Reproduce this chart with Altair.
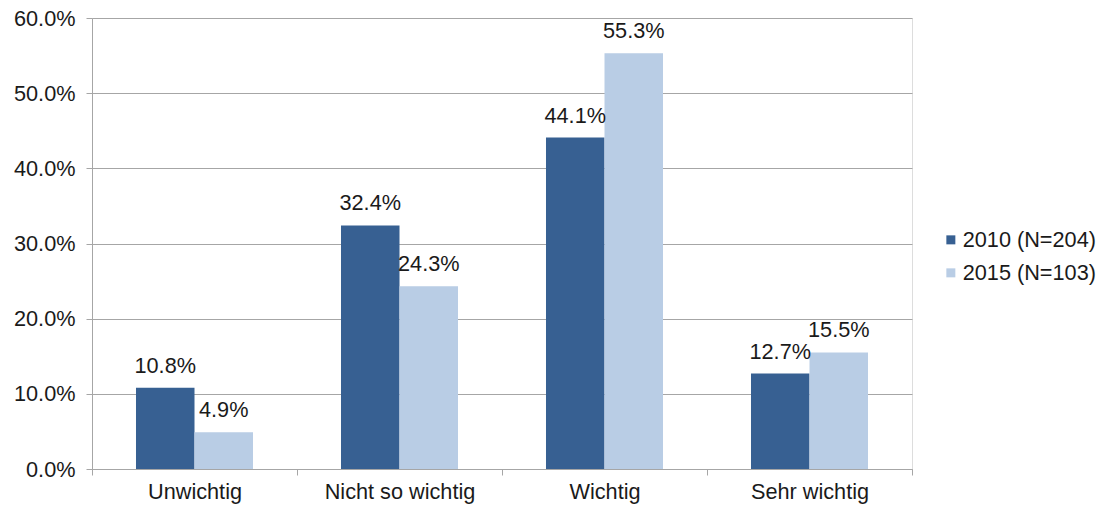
import altair as alt
import pandas as pd

categories = ["Unwichtig", "Nicht so wichtig", "Wichtig", "Sehr wichtig"]
series = ["2010 (N=204)", "2015 (N=103)"]
values_2010 = [0.108, 0.324, 0.441, 0.127]
values_2015 = [0.049, 0.243, 0.553, 0.155]
colors = ["#376092", "#B9CDE5"]

rows = []
for c, v in zip(categories, values_2010):
    rows.append({"Kategorie": c, "Serie": series[0], "Wert": v})
for c, v in zip(categories, values_2015):
    rows.append({"Kategorie": c, "Serie": series[1], "Wert": v})
df = pd.DataFrame(rows)

FONT = "Liberation Sans"
FS = 21.7

x_enc = alt.X("Kategorie:N", sort=categories, title=None,
              scale=alt.Scale(paddingInner=0, paddingOuter=0),
              axis=alt.Axis(labelAngle=0, tickBand="extent", domainColor="#A6A6A6",
                            tickColor="#A6A6A6", tickSize=6, labelFontSize=FS,
                            labelColor="#1a1a1a", labelFont=FONT, labelPadding=6,
                            grid=False))
xo_enc = alt.XOffset("Serie:N", sort=series,
                     scale=alt.Scale(paddingInner=0, paddingOuter=0.752))
y_enc = alt.Y("Wert:Q", title=None,
              scale=alt.Scale(domain=[0, 0.6], nice=False),
              axis=alt.Axis(format=".1%", values=[0, 0.1, 0.2, 0.3, 0.4, 0.5, 0.6],
                            grid=True, gridColor="#A6A6A6", domainColor="#A6A6A6",
                            tickColor="#A6A6A6", tickSize=6, labelFontSize=FS,
                            labelColor="#1a1a1a", labelFont=FONT, labelPadding=11))

bars = alt.Chart(df).mark_bar().encode(
    x=x_enc, xOffset=xo_enc, y=y_enc,
    color=alt.Color("Serie:N", sort=series, title=None,
                    scale=alt.Scale(domain=series, range=colors),
                    legend=alt.Legend(orient="none", legendX=848, legendY=211,
                                      padding=0, offset=0,
                                      symbolType="square", symbolSize=81,
                                      symbolStrokeWidth=0, labelFontSize=FS,
                                      labelFont=FONT, labelColor="#1a1a1a",
                                      rowPadding=10, symbolOffset=0, labelOffset=1)),
)

labels = alt.Chart(df).mark_text(baseline="bottom", dy=-10, fontSize=FS, font=FONT,
                                 color="#1a1a1a").encode(
    x=alt.X("Kategorie:N", sort=categories),
    xOffset=alt.XOffset("Serie:N", sort=series),
    y="Wert:Q",
    text=alt.Text("Wert:Q", format=".1%"),
)

chart = (bars + labels).properties(
    width=820, height=451,
    padding={"left": 92, "top": 18, "right": 198, "bottom": 40},
    autosize=alt.AutoSizeParams(type="none"),
).configure_view(stroke=None).configure(background="white")

chart.save("out.html", embed_options={"renderer": "svg", "actions": False})
